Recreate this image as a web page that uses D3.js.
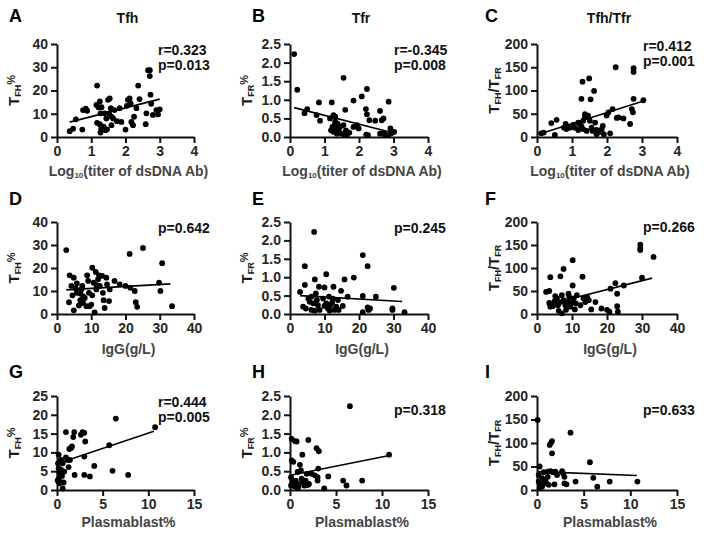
<!DOCTYPE html>
<html><head><meta charset="utf-8">
<script src="https://cdn.jsdelivr.net/npm/d3@7"></script>
<style>body{margin:0;background:#fff}svg{display:block}</style>
</head><body>
<script>
// ---------- DATA ----------
const aX=[0.37,0.47,0.55,0.76,0.84,0.88,0.74,1.17,1.15,1.21,1.25,1.27,1.17,1.25,1.29,1.27,1.36,1.42,1.46,1.30,1.39,1.44,1.49,1.54,1.57,1.52,1.59,1.64,1.68,1.59,1.75,1.83,1.88,2.00,2.04,2.07,2.12,2.15,2.22,2.25,2.32,2.37,2.41,2.17,2.59,2.61,2.66,2.71,2.71,2.73,2.75,2.80,2.95,3.00,2.90];
const aY=[2.5,3.6,7.6,11.6,12.2,11.3,3.2,22.1,13.8,12.8,15.3,10.2,6.1,5.5,3.6,1.9,4.4,2.9,3.3,12.8,10.2,8.0,16.0,16.6,12.4,10.2,8.7,8.0,11.6,5.1,6.8,12.4,6.5,3.2,13.4,16.0,16.6,14.5,5.1,8.7,12.4,22.1,16.3,6.5,5.5,10.2,28.7,28.7,26.2,18.2,14.3,9.5,9.7,11.9,11.6];
const bX=[0.12,0.21,0.42,0.50,0.77,0.84,0.87,1.21,1.16,1.26,1.31,1.23,1.29,1.33,1.19,1.26,1.36,1.40,1.31,1.38,1.45,1.55,1.55,1.50,1.58,1.60,1.62,1.65,1.72,1.84,1.84,1.94,1.99,2.08,2.23,2.20,2.23,2.30,2.21,2.26,2.47,2.61,2.66,2.71,2.61,2.71,2.76,2.86,2.91,2.95,3.02,2.86];
const bY=[2.23,1.27,0.64,0.75,0.59,0.93,0.44,0.93,0.50,0.59,0.55,0.27,0.32,0.23,0.18,0.14,0.09,0.18,0.41,0.36,0.27,1.59,0.32,0.09,0.05,0.73,0.18,0.05,0.12,0.98,0.27,0.32,0.23,1.09,1.29,0.75,0.61,0.45,0.06,0.05,0.44,0.70,0.45,0.50,0.09,0.09,0.06,0.95,0.23,0.11,0.14,0.05];
const cX=[0.12,0.19,0.41,0.56,0.51,0.77,0.82,0.84,0.94,1.08,1.03,1.18,1.22,1.27,1.30,1.27,1.32,1.37,1.37,1.32,1.42,1.49,1.53,1.46,1.51,1.56,1.59,1.63,1.66,1.70,1.75,1.85,1.88,1.91,1.99,2.04,2.09,2.16,2.25,2.28,2.33,2.47,2.66,2.71,2.76,2.74,2.76,2.76,3.04,1.70,1.18];
const cY=[8,9.5,30,37,4.4,20,28,17,20,20,26,31,28,23,119,82,35,42,49,17,13,126,81,46,35,20,13,99,31,6,9.5,17,24,6,46,53,8,60,150,41,42,40,28,60,82,53,148,140,79,15,15];
const dX=[2.7,3.5,3.7,4.2,4.5,4.9,4.9,5.5,5.8,5.8,6.4,6.8,7.1,7.4,7.6,8.1,8.6,8.8,9.1,9.3,9.5,10.0,10.3,10.3,10.7,11.0,11.3,11.5,12.0,12.3,12.5,13.2,13.4,13.6,13.9,14.4,14.6,15.2,15.4,16.8,18.3,20.0,21.2,21.4,22.7,23.0,23.4,25.1,29.8,30.2,30.7,33.6,11.5,7.6,6.8];
const dY=[27.8,5.1,16.8,12.2,8.1,15.8,1.6,11.0,13.3,9.2,3.7,6.0,10.7,12.2,4.8,7.0,3.4,16.8,14.4,9.2,3.4,4.1,20.1,8.1,13.6,0.7,18.3,10.7,15.1,16.8,12.2,16.6,9.2,6.0,2.6,15.8,12.9,5.6,10.7,14.4,12.9,12.2,26.1,11.4,10.0,5.1,3.1,28.7,13.6,10.0,22.1,3.4,12.5,7.8,8.9];
const eX=[2.9,4.3,4.3,3.8,4.6,5.3,5.7,6.2,7.0,7.2,7.5,7.8,8.1,8.4,7.2,6.7,6.2,9.6,10.0,10.5,10.5,11.0,11.3,11.5,11.7,12.2,12.6,12.9,13.4,13.9,14.1,14.8,15.3,15.8,16.7,18.5,21.1,21.1,21.1,22.5,22.5,22.8,23.2,24.9,29.7,29.7,30.1,33.2,8.6,10.0,12.4];
const eY=[0.60,1.30,0.79,0.20,0.15,0.42,0.33,0.11,2.23,0.94,0.56,0.38,0.24,0.74,0.09,0.29,0.47,0.42,0.72,1.08,0.29,0.15,0.47,0.09,0.24,0.31,0.74,0.11,0.20,0.38,0.11,0.63,0.22,0.94,0.47,0.99,1.60,0.49,0.05,1.30,0.18,0.11,0.15,0.47,0.15,0.11,0.71,0.05,0.11,0.22,0.42];
const fX=[2.6,3.5,3.8,3.5,3.8,4.5,5.0,5.2,5.7,6.0,6.7,6.2,6.7,7.1,7.6,7.6,8.1,8.3,8.9,9.2,9.5,9.8,10.2,10.2,10.5,10.8,11.1,11.4,12.4,13.0,13.3,13.8,14.3,14.8,15.5,16.7,18.4,20.0,20.7,21.0,22.4,22.9,22.9,23.1,24.8,29.5,29.5,29.5,30.0,33.3,9.0,7.1];
const fY=[48,50,80,24,16,17,28,39,34,19,82,7,26,41,98,30,19,9,26,37,16,24,117,62,34,10,23,41,19,81,34,26,37,30,10,26,12,9,5,55,67,44,17,5,62,151,143,139,79,124,44,1.4];
const gX=[0.18,0.11,0.18,0.25,0.18,0.33,0.44,0.55,0.62,0.62,0.73,0.80,0.98,0.98,1.16,1.27,1.35,1.53,1.64,1.78,1.89,1.93,1.42,2.62,2.80,2.99,2.99,3.09,2.99,3.60,4.08,5.72,6.08,6.44,7.79,10.74,0.25,0.07,0.44];
const gY=[9.4,7.1,5.8,4.5,3.1,2.2,5.4,3.75,7.1,0.4,2.0,4.9,8.7,15.4,8.0,6.1,10.9,11.2,11.6,14.1,15.4,4.0,8.0,14.7,15.4,15.2,8.9,12.9,4.0,3.6,6.4,11.9,5.1,19.0,4.0,16.7,1.8,2.5,8.0];
const hX=[0.18,0.54,0.72,0.18,0.36,0.11,0.25,0.36,0.47,0.61,0.72,0.83,0.90,1.08,1.19,1.26,1.34,1.45,1.55,1.70,1.81,1.92,1.99,2.06,2.35,2.71,2.89,3.14,3.00,3.07,3.00,3.72,4.16,5.78,6.14,6.51,7.84,10.77,0.90,0.11];
const hY=[1.36,1.30,1.29,0.79,0.75,0.34,0.22,0.16,0.10,0.25,0.07,0.48,0.16,0.67,0.52,0.30,0.94,0.21,0.12,0.25,0.43,0.13,1.33,0.16,0.43,0.39,1.11,1.03,0.34,0.57,0.25,0.04,0.36,0.25,0.12,2.23,0.25,0.94,0.07,0.12];
const iX=[0.07,0.29,0.18,0.18,0.36,0.29,0.54,0.54,0.72,0.90,1.00,1.15,1.26,1.36,1.51,1.61,1.61,1.44,1.72,1.87,1.97,2.15,2.69,2.80,2.94,2.94,3.16,3.59,4.13,5.67,6.03,6.46,7.79,10.76,1.15,0.72];
const iY=[149,50,32,18,11,4,7,25,38,21,14,28,11,96,101,104,78,40,38,12,39,32,40,35,28,14,12,122,18,59,26,7,18,18,39,14];
// regression line end points [x0,x1],[y0,y1]
const fitAx=[0.37,3.0], fitAy=[6.4,16.3];
const fitBx=[0.12,2.95], fitBy=[0.79,0.12];
const fitCx=[0.05,3.02], fitCy=[6,77];
const fitDx=[2.7,33.1], fitDy=[10.5,13.1];
const fitEx=[2.9,32.5], fitEy=[0.50,0.34];
const fitFx=[2.9,32.9], fitFy=[20,78];
const fitGx=[0.25,10.6], fitGy=[7.2,15.6];
const fitHx=[0.18,10.66], fitHy=[0.40,0.91];
const fitIx=[0.07,10.7], fitIy=[39,31];
// tick labels
const xTicksDs=[0,1,2,3,4], xTicksIgG=[0,10,20,30,40], xTicksPb=[0,5,10,15];
const yTicksFH=[0,10,20,30,40], yTicksFR=[0,0.5,1.0,1.5,2.0,2.5], yTicksRatio=[0,50,100,150,200], yTicksFHg=[0,5,10,15,20,25];
const letters=["A","B","C","D","E","F","G","H","I"];
const titles=["Tfh","Tfr","Tfh/Tfr"];
const xTitles=["titer","IgG(g/L)","Plasmablast%"];
const statsR=["r=0.323","r=-0.345","r=0.412",null,null,null,"r=0.444",null,null];
const statsP=["p=0.013","p=0.008","p=0.001","p=0.642","p=0.245","p=0.266","p=0.005","p=0.318","p=0.633"];

// ---------- LAYOUT ----------
const W=704,H=538;
const colL=[57,290,537], colR=[194,428,677];
const rowT=[44,222,396], rowB=[137,314,490];
const FONT="'Liberation Sans', Arial, sans-serif";

const panels=[
 {x:aX,y:aY,fx:fitAx,fy:fitAy,xt:xTicksDs,yt:yTicksFH,fmt:d3.format("d"),lab:"FH"},
 {x:bX,y:bY,fx:fitBx,fy:fitBy,xt:xTicksDs,yt:yTicksFR,fmt:d3.format(".1f"),lab:"FR"},
 {x:cX,y:cY,fx:fitCx,fy:fitCy,xt:xTicksDs,yt:yTicksRatio,fmt:d3.format("d"),lab:"ratio"},
 {x:dX,y:dY,fx:fitDx,fy:fitDy,xt:xTicksIgG,yt:yTicksFH,fmt:d3.format("d"),lab:"FH"},
 {x:eX,y:eY,fx:fitEx,fy:fitEy,xt:xTicksIgG,yt:yTicksFR,fmt:d3.format(".1f"),lab:"FR"},
 {x:fX,y:fY,fx:fitFx,fy:fitFy,xt:xTicksIgG,yt:yTicksRatio,fmt:d3.format("d"),lab:"ratio"},
 {x:gX,y:gY,fx:fitGx,fy:fitGy,xt:xTicksPb,yt:yTicksFHg,fmt:d3.format("d"),lab:"FH"},
 {x:hX,y:hY,fx:fitHx,fy:fitHy,xt:xTicksPb,yt:yTicksFR,fmt:d3.format(".1f"),lab:"FR"},
 {x:iX,y:iY,fx:fitIx,fy:fitIy,xt:xTicksPb,yt:yTicksRatio,fmt:d3.format("d"),lab:"ratio"}
];
const letterX=[9,252,485], letterY=[22,205,378];
const statX=[158,394,643];
const statRY=[[55,55,51],[0,0,0],[407,0,0]];
const statPY=[[70,70,66],[233,233,232],[422,415,415]];

const svg=d3.select("body").append("svg").attr("width",W).attr("height",H)
  .style("font-family",FONT);

panels.forEach((p,i)=>{
  const r=Math.floor(i/3), c=i%3;
  const x=d3.scaleLinear().domain([0,d3.max(p.xt)]).range([colL[c],colR[c]]);
  const y=d3.scaleLinear().domain([0,d3.max(p.yt)]).range([rowB[r],rowT[r]]);
  const g=svg.append("g");
  // axes
  const xa=g.append("g").attr("transform",`translate(0,${rowB[r]})`)
    .call(d3.axisBottom(x).tickValues(p.xt).tickFormat(d3.format("d")).tickSize(6).tickSizeOuter(0));
  const ya=g.append("g").attr("transform",`translate(${colL[c]},0)`)
    .call(d3.axisLeft(y).tickValues(p.yt).tickFormat(p.fmt).tickSize(6).tickSizeOuter(0));
  [xa,ya].forEach(a=>{
    a.selectAll("path,line").attr("stroke","#111").attr("stroke-width",2);
    a.selectAll("text").attr("font-family",FONT).attr("font-weight","bold")
      .attr("font-size",14).attr("fill","#262626");
  });
  xa.selectAll("text").attr("dy","0.74em");
  // points
  g.append("g").selectAll("circle").data(p.x.map((v,k)=>[v,p.y[k]])).join("circle")
    .attr("cx",d=>x(d[0])).attr("cy",d=>y(d[1])).attr("r",2.9).attr("fill","#000");
  // fit line
  g.append("line").attr("x1",x(p.fx[0])).attr("x2",x(p.fx[1]))
    .attr("y1",y(p.fy[0])).attr("y2",y(p.fy[1])).attr("stroke","#000").attr("stroke-width",1.6);
  // panel letter
  svg.append("text").attr("x",letterX[c]).attr("y",letterY[r]).text(letters[i])
    .attr("font-weight","bold").attr("font-size",18).attr("fill","#000");
  // stats
  if(statsR[i]) svg.append("text").attr("x",statX[c]).attr("y",statRY[r][c]).text(statsR[i])
    .attr("font-weight","bold").attr("font-size",14).attr("fill","#111");
  svg.append("text").attr("x",statX[c]).attr("y",statPY[r][c]).text(statsP[i])
    .attr("font-weight","bold").attr("font-size",14).attr("fill","#111");
  // y label
  const cx=colL[c]-38, cy=(rowT[r]+rowB[r])/2;
  const yl=svg.append("text").attr("transform",`translate(${cx},${cy}) rotate(-90)`)
    .attr("text-anchor","middle")
    .attr("font-weight","bold").attr("font-size",15).attr("fill","#1a1a1a");
  if(p.lab==="ratio"){
    yl.append("tspan").text("T");
    yl.append("tspan").text("FH").attr("font-size",9).attr("dy",2);
    yl.append("tspan").text("/").attr("dy",-2);
    yl.append("tspan").text("T");
    yl.append("tspan").text("FR").attr("font-size",9).attr("dy",2);
  } else {
    yl.append("tspan").text("T");
    yl.append("tspan").text(p.lab).attr("font-size",9).attr("dy",2);
    yl.append("tspan").text("%").attr("font-size",11).attr("dy",-6);
  }
  // x title
  const tx=(colL[c]+colR[c])/2+3, ty=rowB[r]+[39,40,37][r];
  const xt=svg.append("text").attr("x",tx).attr("y",ty).attr("text-anchor","middle")
    .attr("font-weight","bold").attr("font-size",14).attr("fill","#444");
  if(r===0){
    xt.append("tspan").text("Log");
    xt.append("tspan").text("10").attr("font-size",8).attr("dy",2);
    xt.append("tspan").text("(titer of dsDNA Ab)").attr("dy",-2);
  } else xt.text(xTitles[r]);
});
// column titles
titles.forEach((t,c)=>{
  svg.append("text").attr("x",(colL[c]+colR[c])/2+2).attr("y",23).attr("text-anchor","middle")
    .text(t).attr("font-weight","bold").attr("font-size",14).attr("fill","#111");
});
</script>
</body></html>
